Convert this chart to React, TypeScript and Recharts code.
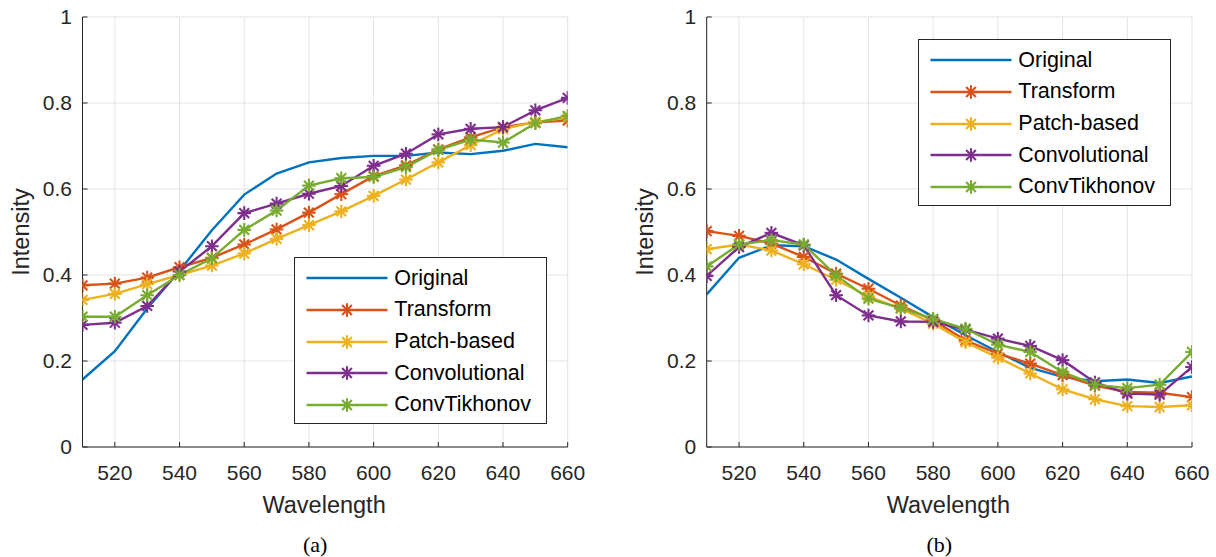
import { LineChart, Line, XAxis, YAxis, CartesianGrid, Legend } from 'recharts'

const FONT = '"Liberation Sans", Arial, Helvetica, sans-serif'
const AXIS = '#262626'
const GRID = '#e3e3e3'

// wavelengths (nm)
const wavelengths = [510, 520, 530, 540, 550, 560, 570, 580, 590, 600, 610, 620, 630, 640, 650, 660]
const xTicks = [520, 540, 560, 580, 600, 620, 640, 660]
const yTicks = [0, 0.2, 0.4, 0.6, 0.8, 1]

// (a)
const origA = [0.157, 0.223, 0.322, 0.41, 0.504, 0.587, 0.636, 0.662, 0.672, 0.677, 0.677, 0.685, 0.681, 0.689, 0.705, 0.697]
const transformA = [0.376, 0.38, 0.394, 0.418, 0.44, 0.471, 0.506, 0.545, 0.588, 0.63, 0.655, 0.692, 0.72, 0.744, 0.755, 0.759]
const patchA = [0.342, 0.356, 0.379, 0.4, 0.422, 0.45, 0.484, 0.516, 0.548, 0.584, 0.622, 0.662, 0.702, 0.739, 0.756, 0.766]
const convA = [0.284, 0.289, 0.328, 0.408, 0.467, 0.544, 0.566, 0.589, 0.607, 0.654, 0.682, 0.727, 0.74, 0.744, 0.783, 0.812]
const tikA = [0.303, 0.303, 0.353, 0.4, 0.439, 0.505, 0.55, 0.608, 0.625, 0.628, 0.651, 0.691, 0.715, 0.708, 0.753, 0.77]

// (b)
const origB = [0.355, 0.44, 0.469, 0.467, 0.436, 0.391, 0.347, 0.302, 0.26, 0.221, 0.184, 0.163, 0.153, 0.157, 0.149, 0.164]
const transformB = [0.502, 0.491, 0.473, 0.442, 0.403, 0.368, 0.329, 0.295, 0.248, 0.217, 0.194, 0.167, 0.143, 0.128, 0.126, 0.116]
const patchB = [0.46, 0.471, 0.457, 0.425, 0.389, 0.35, 0.322, 0.287, 0.244, 0.208, 0.171, 0.134, 0.111, 0.095, 0.093, 0.097]
const convB = [0.398, 0.465, 0.498, 0.469, 0.353, 0.306, 0.292, 0.291, 0.273, 0.252, 0.235, 0.202, 0.15, 0.124, 0.122, 0.186]
const tikB = [0.42, 0.471, 0.481, 0.471, 0.399, 0.345, 0.323, 0.298, 0.275, 0.238, 0.221, 0.174, 0.145, 0.137, 0.145, 0.221]

const SERIES = [
  { key: 'original', name: 'Original', color: '#0072BD', star: false },
  { key: 'transform', name: 'Transform', color: '#D95319', star: true },
  { key: 'patch', name: 'Patch-based', color: '#EDB120', star: true },
  { key: 'conv', name: 'Convolutional', color: '#7E2F8E', star: true },
  { key: 'tik', name: 'ConvTikhonov', color: '#77AC30', star: true },
]

const buildRows = (o: number[], t: number[], p: number[], c: number[], k: number[]) =>
  wavelengths.map((wl, i) => ({ wl, original: o[i], transform: t[i], patch: p[i], conv: c[i], tik: k[i] }))

const dataA = buildRows(origA, transformA, patchA, convA, tikA)
const dataB = buildRows(origB, transformB, patchB, convB, tikB)

const Star = ({ cx, cy, stroke }: any) => {
  if (cx == null || cy == null) return null
  const r = 6.8
  const d = r * 0.72
  return (
    <g stroke={stroke} strokeWidth={2.1} strokeLinecap="butt">
      <line x1={cx - r} y1={cy} x2={cx + r} y2={cy} />
      <line x1={cx} y1={cy - r} x2={cx} y2={cy + r} />
      <line x1={cx - d} y1={cy - d} x2={cx + d} y2={cy + d} />
      <line x1={cx - d} y1={cy + d} x2={cx + d} y2={cy - d} />
    </g>
  )
}

const LegendBox = () => (
  <div
    style={{
      width: 253,
      height: 167,
      boxSizing: 'border-box',
      border: `1px solid ${AXIS}`,
      background: '#fff',
      paddingTop: 4,
      fontFamily: FONT,
      fontSize: 21.5,
      color: '#000',
    }}
  >
    {SERIES.map(s => (
      <div key={s.key} style={{ height: 31.7, display: 'flex', alignItems: 'center' }}>
        <svg width={99} height={20} style={{ flex: 'none' }}>
          <line x1={11.5} y1={10} x2={92.5} y2={10} stroke={s.color} strokeWidth={2.4} />
          {s.star && <Star cx={52} cy={10} stroke={s.color} />}
        </svg>
        <span style={{ whiteSpace: 'nowrap' }}>{s.name}</span>
      </div>
    ))}
  </div>
)

const tickStyle = { fill: AXIS, fontSize: 21, fontFamily: FONT }

function Panel({ data, tag, marginLeft, marginRight, legendLeft, legendTop }: any) {
  return (
    <LineChart
      width={608}
      height={557}
      data={data}
      margin={{ top: 17, right: marginRight, bottom: 70, left: marginLeft }}
    >
      <CartesianGrid stroke={GRID} strokeWidth={1} />
      <XAxis
        dataKey="wl"
        type="number"
        domain={[510, 660]}
        ticks={xTicks}
        allowDataOverflow
        height={40}
        stroke={AXIS}
        tick={tickStyle}
        tickSize={-5}
        tickMargin={23}
        label={(p: any) => {
          const vb = p.viewBox
          const cx = vb.x + vb.width / 2
          return (
            <g>
              <text x={cx - 1} y={vb.y + 58} textAnchor="middle" dominantBaseline="central"
                fill={AXIS} fontSize={23.5} fontFamily={FONT}>Wavelength</text>
              <text x={cx - 10} y={vb.y + 97} textAnchor="middle" dominantBaseline="central"
                fill="#000" fontSize={22} fontFamily='"Liberation Serif", "Times New Roman", serif'>{tag}</text>
            </g>
          )
        }}
      />
      <XAxis
        xAxisId="top"
        orientation="top"
        dataKey="wl"
        type="number"
        domain={[510, 660]}
        ticks={xTicks}
        allowDataOverflow
        height={0}
        stroke={AXIS}
        tickSize={-5}
        tickFormatter={() => ''}
      />
      <YAxis
        type="number"
        domain={[0, 1]}
        ticks={yTicks}
        width={60}
        stroke={AXIS}
        tick={tickStyle}
        tickSize={-5}
        tickMargin={15.5}
        tickFormatter={(v: number) => String(v)}
        label={(p: any) => {
          const vb = p.viewBox
          const x = vb.x + vb.width - 62
          const y = vb.y + vb.height / 2
          return (
            <text x={x} y={y} transform={`rotate(-90 ${x} ${y})`} textAnchor="middle" dominantBaseline="central"
              fill={AXIS} fontSize={23.5} fontFamily={FONT}>Intensity</text>
          )
        }}
      />
      <YAxis
        yAxisId="right"
        orientation="right"
        type="number"
        domain={[0, 1]}
        ticks={yTicks}
        width={0}
        stroke={AXIS}
        tickSize={-5}
        tickFormatter={() => ''}
      />
      <Legend
        layout="vertical"
        align="center"
        verticalAlign="middle"
        content={<LegendBox />}
        wrapperStyle={{ left: legendLeft, top: legendTop, width: 253, height: 167 }}
      />
      {SERIES.map(s => (
        <Line
          key={s.key}
          type="linear"
          dataKey={s.key}
          name={s.name}
          stroke={s.color}
          strokeWidth={2.4}
          dot={s.star ? (p: any) => <Star key={p.index} cx={p.cx} cy={p.cy} stroke={s.color} /> : false}
          activeDot={false}
          isAnimationActive={false}
        />
      ))}
    </LineChart>
  )
}

export default function App() {
  return (
    <div style={{ position: 'absolute', left: 0, top: 0, width: 1216, height: 557, background: '#fff', display: 'flex' }}>
      <Panel data={dataA} tag="(a)" marginLeft={22.5} marginRight={40.3} legendLeft={294.3} legendTop={257.3} />
      <Panel data={dataB} tag="(b)" marginLeft={38.7} marginRight={24} legendLeft={310.3} legendTop={39.3} />
    </div>
  )
}
